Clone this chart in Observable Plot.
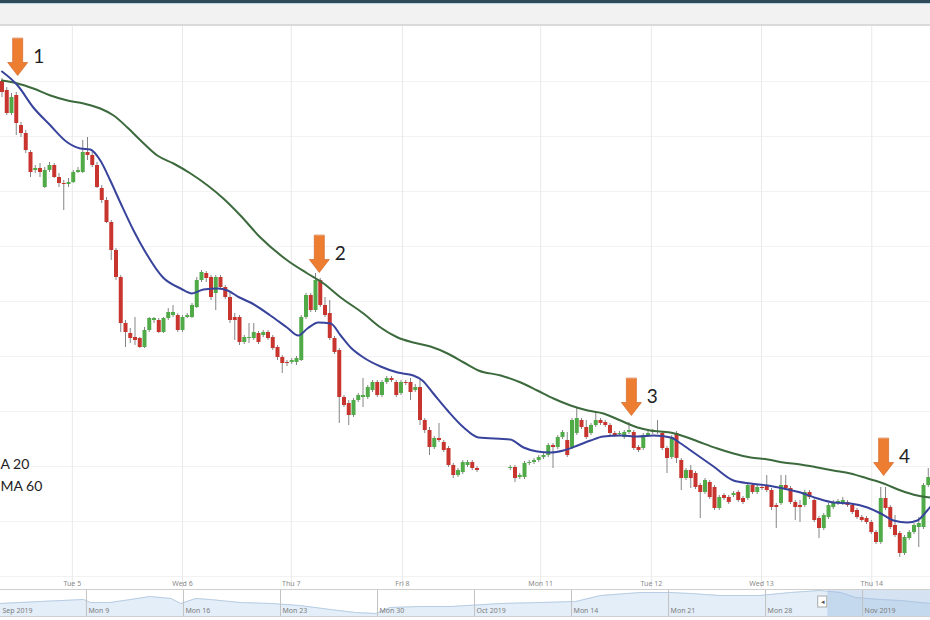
<!DOCTYPE html>
<html><head><meta charset="utf-8">
<script src="https://cdn.jsdelivr.net/npm/d3@7"></script>
<script src="https://cdn.jsdelivr.net/npm/@observablehq/plot@0.6"></script>
<style>
html,body{margin:0;padding:0;background:#fff;width:930px;height:620px;overflow:hidden;font-family:"Open Sans",sans-serif}
#hdr{height:21px;border-top:3px solid #2f4b5a;background:#f2f2f2;border-bottom:2px solid #dadada;box-shadow:inset 0 1px 0 #b7d6e6}
#main svg,#nav svg{display:block}
</style></head><body>
<div id="hdr"></div>
<div id="main"></div>
<div id="nav"></div>
<script>
// hourly candles (slot index), null = no trading (weekend gap)
const openP = [519,510,487,505,475,467,448,430,432,413,
430,435,423,417,416,418,428,428,448,445,
435,412,400,378,350,323,277,267,263,262,
253,270,280,280,268,282,285,285,270,283,
283,293,320,327,323,307,323,313,303,283,
283,258,262,262,267,265,268,263,253,243,
238,238,238,240,283,305,290,320,295,287,
262,250,203,197,185,200,203,203,210,218,
205,218,222,218,207,218,218,210,213,180,
170,153,162,158,152,135,125,128,135,138,
132,null,null,null,null,null,null,132,133,123,
123,137,138,140,143,145,155,153,163,160,
153,167,180,173,167,175,180,178,175,167,
166,163,168,168,153,152,165,168,168,167,
152,143,167,140,122,130,127,115,108,118,
113,92,105,103,105,108,102,102,115,108,
113,115,110,95,97,115,112,98,95,95,
108,100,82,72,83,93,97,97,98,95,
90,83,82,78,68,58,102,93,75,67,
47,62,68,73,73,115];
const highP = [522,513,507,508,478,470,450,435,437,433,
438,437,427,420,422,430,433,460,463,448,
438,415,403,380,352,325,280,272,283,263,
273,283,283,282,283,292,295,287,285,287,
297,323,330,329,325,325,325,315,307,287,
285,265,277,277,269,270,270,265,255,245,
240,242,244,285,307,307,327,322,303,300,
264,252,205,200,202,207,222,215,220,220,
220,224,224,220,220,220,222,216,220,182,
173,164,177,160,154,137,132,140,140,140,
134,null,null,null,null,null,null,135,135,127,
139,140,142,145,147,157,157,165,170,168,
182,192,182,180,177,188,182,180,177,169,
169,170,178,170,155,167,169,171,180,169,
154,165,169,142,132,135,129,117,122,120,
115,105,107,105,109,110,104,117,117,115,
115,125,112,97,125,125,114,100,100,110,
110,102,84,87,97,100,101,103,100,97,
92,85,84,80,70,113,113,95,85,69,
65,70,77,83,117,132];
const lowP = [503,485,485,465,463,447,423,427,423,412,
428,422,413,390,413,417,427,427,440,433,
412,397,377,340,320,268,253,257,255,252,
252,268,277,267,267,280,283,268,268,282,
282,292,318,318,300,290,311,301,277,260,
255,256,257,260,256,263,260,250,240,227,
234,236,235,239,281,288,288,293,283,260,
246,177,193,175,183,198,193,201,208,203,
203,216,218,203,205,215,200,208,175,167,
145,151,158,148,133,122,123,126,133,130,
128,null,null,null,null,null,null,130,118,121,
121,135,136,138,141,143,132,151,161,143,
151,165,171,161,165,173,175,173,165,163,
164,161,166,150,148,150,163,166,166,150,
127,141,137,110,120,112,111,82,106,101,
90,90,100,96,103,98,96,100,106,106,
110,108,90,72,95,110,96,80,78,93,
101,78,62,70,81,91,95,95,93,86,
81,78,76,66,56,56,90,71,63,43,
45,60,66,53,71,113];
const closeP = [508,487,503,477,467,450,428,432,428,430,
435,423,417,416,418,428,430,448,445,435,
413,400,378,350,323,277,268,262,260,253,
270,282,282,268,282,288,288,270,283,285,
295,320,328,322,303,323,313,303,280,280,
258,263,263,268,258,268,262,252,243,237,
237,240,242,283,305,290,320,295,285,262,
248,203,195,185,200,205,205,213,218,205,
218,222,220,205,218,217,208,213,180,170,
153,162,160,150,135,125,130,138,138,132,
130,null,null,null,null,null,null,133,122,125,
137,138,140,143,145,155,153,163,168,145,
180,182,173,163,175,180,177,175,167,165,
167,168,170,152,150,165,167,169,169,152,
142,163,142,122,130,122,113,108,120,103,
92,103,102,98,107,100,98,115,108,113,
112,110,93,93,115,112,98,93,93,108,
103,80,72,85,95,98,99,100,95,88,
83,80,78,68,58,102,92,73,65,47,
63,68,75,77,115,123];

// MA 20 (blue) and MA 60 (green), read at slot positions
const ma20Slot = [0,3.3,6.6,10,13.8,16.5,18.6,20.7,22.8,25,27.7,30,33.9,37.6,40,42.4,45.4,47.5,50,52.3,56.5,60,62.4,64.3,66.6,69.2,71.3,73.4,76.1,79.7,83.3,86.6,88.5,90.8,93.8,97.2,100.3,107,109.8,112.7,115.5,118.2,121.2,123.9,126.6,130.2,133.8,137.2,140.8,142.9,145.6,149.8,154,157.6,161.2,164.5,168.1,171.7,175,178.6,182.2,185,187.7,190.6,192.7,194.8,195.5];
const ma20 = [529,515,493,476,458,452,451,440,420,397,370,350,323,312,307,311,312,310,303,298,285,273,265,272,278,277,265,253,243,234,228,225,220,207,190,173,163,161,153,149,148,150,155,160,164,165,164,165,163,157,148,134,120,117,115,112,108,102,98,97,93,87,80,78,80,90,94];
const ma60Slot = [0,3.3,6.6,10.2,13.8,17.2,20.7,23.5,26.4,29.2,32.7,36.1,39.7,43.3,46.6,50.2,54.4,60.1,64.3,67.7,71.3,76.1,79.7,83.3,86.6,90.2,93.8,97.2,100.3,105,109.2,112.7,116.1,119.7,123.3,126.6,130.2,133.8,136.5,140.7,144.3,147.1,150.6,154,157.6,161.2,164.5,168.1,171.7,175,178.6,182.2,185.6,189.2,192.7,195.5];
const ma60 = [520,517,512,505,500,497,492,485,473,460,445,437,427,415,402,385,363,340,327,317,303,287,273,263,258,254,247,238,230,225,218,210,202,195,190,187,180,173,170,168,163,158,152,147,143,141,138,136,133,130,127,122,117,110,105,103];

// annotations
const arrowSlot = [3.3, 66.8, 132.5, 185.6];
const arrowPrice = [525, 328, 185, 125];
const arrowLabel = ["1", "2", "3", "4"];

// axis ticks
const dayTickSlot = [14.8, 38.0, 60.9, 84.3, 113.4, 136.7, 159.9, 183.1];
const dayTickLabel = ["Tue 5", "Wed 6", "Thu 7", "Fri 8", "Mon 11", "Tue 12", "Wed 13", "Thu 14"];
const gridPrices = [519, 464, 409, 354, 299, 244, 189, 134, 79, 24];
const legendLabels = ["A 20", "MA 60"];

// navigator (days since Mon 2 Sep 2019)
const navDay = [0.8,2.2,3.7,6.8,7.3,8.7,10.2,11.6,13.1,13.8,14.9,15.9,18.1,20.3,22.4,24.6,26.4,27.9,28.9,31.1,33.3,36.9,39.8,42.3,44.1,47.0,49.1,50.6,52.7,55.6,57.8,59.9,61.4,62.5,64.3,65.7,67.9];
const navLevel = [13,14,15,17,14,14,17,20,18,13,18,17,14,13,11,7,4,3,9,10,10,13,14,15,21,24,24,23,21,21,24,26,24,19,17,16,13];
const navTickDay = [0, 7, 14, 21, 28, 35, 42, 49, 56, 63];
const navTickLabel = ["Sep 2019", "Mon 9", "Mon 16", "Mon 23", "Mon 30", "Oct 2019", "Mon 14", "Mon 21", "Mon 28", "Nov 2019"];
const navSelection = [60.5, 67.9];
const navHandle = [59.8, 60.45];

// ---- build tables ----
const candles = d3.range(openP.length).filter(i => openP[i] != null)
  .map(i => ({i, o: openP[i], h: highP[i], l: lowP[i], c: closeP[i]}));
const ups = candles.filter(d => d.c >= d.o);
const downs = candles.filter(d => d.c < d.o);
const blue = ma20Slot.map((s, k) => ({s, v: ma20[k]}));
const green = ma60Slot.map((s, k) => ({s, v: ma60[k]}));
const arrows = arrowSlot.map((s, k) => ({s, p: arrowPrice[k], t: arrowLabel[k]}));
const days = dayTickSlot.map((s, k) => ({s, t: dayTickLabel[k]}));
const nav = navDay.map((d, k) => ({d, v: navLevel[k]}));
const navDomain = [0.8, 67.9];
// keep the first navigator label inside the frame
const navTicks = navTickDay.map((d, k) => ({d, lx: Math.max(d, navDomain[0]), t: navTickLabel[k]}));

const blockArrow = {
  draw(context, l) {
    const hw = 5, hh = 10, head = 13;
    context.moveTo(-hw, 0);
    context.lineTo(-hw, -(l - head));
    context.lineTo(-hh, -(l - head));
    context.lineTo(0, -l);
    context.lineTo(hh, -(l - head));
    context.lineTo(hw, -(l - head));
    context.lineTo(hw, 0);
    context.closePath();
  }
};

const main = Plot.plot({
  width: 930, height: 562, margin: 0,
  style: {background: "#fff", overflow: "hidden"},
  x: {domain: [-0.316, 195.47], axis: null},
  y: {domain: [12, 574], axis: null},
  marks: [
    Plot.ruleY(gridPrices, {stroke: "#f2f2f2", strokeWidth: 1}),
    Plot.ruleX(dayTickSlot, {stroke: "#e9e9e9", strokeWidth: 1}),
    Plot.ruleX(candles, {x: "i", y1: "l", y2: "h", stroke: "#858585", strokeWidth: 1}),
    Plot.ruleX(ups, {x: "i", y1: "o", y2: "c", stroke: "#4faa47", strokeWidth: 4}),
    Plot.ruleX(downs, {x: "i", y1: "o", y2: "c", stroke: "#c8352e", strokeWidth: 4}),
    Plot.line(green, {x: "s", y: "v", curve: "monotone-x", stroke: "#3c6a3d", strokeWidth: 2}),
    Plot.line(blue, {x: "s", y: "v", curve: "monotone-x", stroke: "#38439c", strokeWidth: 2}),
    Plot.vector(arrows, {x: "s", y: "p", length: 37, rotate: 180, anchor: "end", shape: blockArrow,
      fill: "#ed7d31", stroke: "#d4692a", strokeWidth: 0.7}),
    Plot.text(arrows, {x: "s", y: "p", text: "t", dx: 21, dy: -19, fontSize: 19, fill: "#1e1e1e",
      fontFamily: "Lato, 'Open Sans', sans-serif"}),
    Plot.text(days, {x: "s", text: "t", frameAnchor: "bottom", dy: -3, fontSize: 7, fill: "#8a8a8a"}),
    Plot.text([legendLabels[0]], {text: d => d, frameAnchor: "top-left", dx: 0, dy: 438, textAnchor: "start",
      lineAnchor: "middle", fontSize: 14, fill: "#222", fontFamily: "Lato, 'Open Sans', sans-serif"}),
    Plot.text([legendLabels[1]], {text: d => d, frameAnchor: "top-left", dx: 0, dy: 460, textAnchor: "start",
      lineAnchor: "middle", fontSize: 14, fill: "#222", fontFamily: "Lato, 'Open Sans', sans-serif"})
  ]
});
document.getElementById("main").append(main);

const navPlot = Plot.plot({
  width: 930, height: 32, margin: 0,
  style: {background: "#fff", overflow: "hidden"},
  x: {domain: navDomain, axis: null},
  y: {domain: [-4, 28], axis: null},
  marks: [
    Plot.areaY(nav, {x: "d", y: "v", fill: "#e4eef8", curve: "linear"}),
    Plot.line(nav, {x: "d", y: "v", stroke: "#b8cde3", strokeWidth: 1}),
    Plot.rect([navSelection], {x1: d => d[0], x2: d => d[1], y1: 0, y2: 27, fill: "#9fbfe2", fillOpacity: 0.45}),
    Plot.ruleX(navTicks, {x: "d", y1: 0, y2: 27, stroke: "#c2c2c2"}),
    Plot.ruleY([0, 27], {stroke: "#cfcfcf"}),
    Plot.text(navTicks, {x: "lx", y: 6, text: "t", dx: 2, textAnchor: "start", fontSize: 7, fill: "#7d7d7d"}),
    Plot.rect([navHandle], {x1: d => d[0], x2: d => d[1], y1: 9, y2: 20, fill: "#fff", stroke: "#aaa"}),
    Plot.text([navHandle], {x: d => (d[0] + d[1]) / 2, y: 14.5, text: () => "◂", fontSize: 7, fill: "#555"})
  ]
});
document.getElementById("nav").append(navPlot);
</script>
</body></html>
